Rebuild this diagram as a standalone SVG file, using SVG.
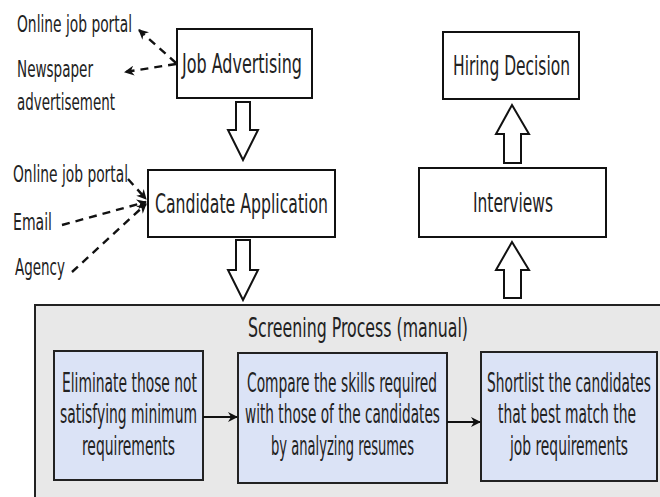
<svg xmlns="http://www.w3.org/2000/svg" width="660" height="497" viewBox="0 0 660 497">
<defs>
<style>
text{font-family:"DejaVu Sans Condensed","DejaVu Sans","Liberation Sans",sans-serif;fill:#222;}
.lbl{font-size:23px;}
.ttl{font-size:27px;}
.inner{font-size:26px;}
.box{fill:#fff;stroke:#111;stroke-width:2;}
.sbox{fill:#dbe3f6;stroke:#222;stroke-width:2;}
.big{fill:#fff;stroke:#111;stroke-width:2;stroke-linejoin:miter;}
.dash{fill:none;stroke:#111;stroke-width:2.4;stroke-dasharray:8 6;}
.solid{fill:none;stroke:#111;stroke-width:2;}
</style>
<marker id="ah" viewBox="0 0 10 10" refX="9" refY="5" markerWidth="10" markerHeight="10" markerUnits="userSpaceOnUse" orient="auto">
<path d="M0,0 L10,5 L0,10 L3,5 z" fill="#111"/>
</marker>
</defs>
<rect width="660" height="497" fill="#fff"/>

<g id="screening">
<rect x="35" y="305" width="640" height="210" fill="#e8e8e8" stroke="#222" stroke-width="2"/>
<text class="ttl" transform="translate(248,337) scale(0.6,1)" textLength="366.7" lengthAdjust="spacingAndGlyphs">Screening Process (manual)</text>
</g>

<g id="labels">
<text class="lbl" transform="translate(17,32) scale(0.6,1)" textLength="191.7" lengthAdjust="spacingAndGlyphs">Online job portal</text>
<text class="lbl" transform="translate(17,77) scale(0.6,1)" textLength="126.7" lengthAdjust="spacingAndGlyphs">Newspaper</text>
<text class="lbl" transform="translate(17,110) scale(0.6,1)" textLength="163.3" lengthAdjust="spacingAndGlyphs">advertisement</text>
<text class="lbl" transform="translate(13,182) scale(0.6,1)" textLength="191.7" lengthAdjust="spacingAndGlyphs">Online job portal</text>
<text class="lbl" transform="translate(13,230) scale(0.6,1)" textLength="65" lengthAdjust="spacingAndGlyphs">Email</text>
<text class="lbl" transform="translate(15,275) scale(0.6,1)" textLength="83.3" lengthAdjust="spacingAndGlyphs">Agency</text>
</g>

<g id="job-advertising">
<rect class="box" x="177" y="29" width="135" height="69"/>
<text class="ttl" transform="translate(182,73) scale(0.6,1)" textLength="200" lengthAdjust="spacingAndGlyphs">Job Advertising</text>
</g>

<g id="candidate-application">
<rect class="box" x="148" y="170" width="187" height="67"/>
<text class="ttl" transform="translate(155,213) scale(0.6,1)" textLength="288.3" lengthAdjust="spacingAndGlyphs">Candidate Application</text>
</g>

<g id="hiring-decision">
<rect class="box" x="443" y="32" width="136" height="67"/>
<text class="ttl" transform="translate(453,75) scale(0.6,1)" textLength="195" lengthAdjust="spacingAndGlyphs">Hiring Decision</text>
</g>

<g id="interviews">
<rect class="box" x="419" y="168" width="187" height="69"/>
<text class="ttl" transform="translate(473,212) scale(0.6,1)" textLength="133.3" lengthAdjust="spacingAndGlyphs">Interviews</text>
</g>

<g id="eliminate">
<rect class="sbox" x="54" y="351" width="149" height="129"/>
<text class="inner" transform="translate(62,392) scale(0.6,1)" textLength="225" lengthAdjust="spacingAndGlyphs">Eliminate those not</text>
<text class="inner" transform="translate(60,423) scale(0.6,1)" textLength="228.3" lengthAdjust="spacingAndGlyphs">satisfying minimum</text>
<text class="inner" transform="translate(82,455) scale(0.6,1)" textLength="155" lengthAdjust="spacingAndGlyphs">requirements</text>
</g>

<g id="compare">
<rect class="sbox" x="238" y="353" width="209" height="130"/>
<text class="inner" transform="translate(247,392) scale(0.6,1)" textLength="316.7" lengthAdjust="spacingAndGlyphs">Compare the skills required</text>
<text class="inner" transform="translate(245,423) scale(0.6,1)" textLength="325" lengthAdjust="spacingAndGlyphs">with those of the candidates</text>
<text class="inner" transform="translate(271,455) scale(0.6,1)" textLength="238.3" lengthAdjust="spacingAndGlyphs">by analyzing resumes</text>
</g>

<g id="shortlist">
<rect class="sbox" x="481" y="352" width="176" height="129"/>
<text class="inner" transform="translate(487,392) scale(0.6,1)" textLength="273.3" lengthAdjust="spacingAndGlyphs">Shortlist the candidates</text>
<text class="inner" transform="translate(498,423) scale(0.6,1)" textLength="230" lengthAdjust="spacingAndGlyphs">that best match the</text>
<text class="inner" transform="translate(510,455) scale(0.6,1)" textLength="196.7" lengthAdjust="spacingAndGlyphs">job requirements</text>
</g>

<g id="connectors">
<line class="dash" x1="176" y1="63" x2="139" y2="30" stroke-dasharray="14 12" marker-end="url(#ah)"/>
<line class="dash" x1="176" y1="64" x2="125" y2="72" marker-end="url(#ah)"/>
<line class="dash" x1="128" y1="179" x2="146" y2="199" stroke-dasharray="12 5" marker-end="url(#ah)"/>
<line class="dash" x1="62" y1="225" x2="146" y2="202" marker-end="url(#ah)"/>
<line class="dash" x1="72" y1="272" x2="146" y2="204" marker-end="url(#ah)"/>
<polygon class="big" points="236,102 250,102 250,130 258,130 243,160 228,130 236,130"/>
<polygon class="big" points="236,240 250,240 250,270 258,270 243,300 228,270 236,270"/>
<polygon class="big" points="512,105 529,134 521,134 521,163 504,163 504,134 496,134"/>
<polygon class="big" points="512,242 529,270 521,270 521,298 504,298 504,270 496,270"/>
<line class="solid" x1="203" y1="417" x2="237" y2="417" marker-end="url(#ah)"/>
<line class="solid" x1="447" y1="422" x2="480" y2="422" marker-end="url(#ah)"/>
</g>
</svg>
